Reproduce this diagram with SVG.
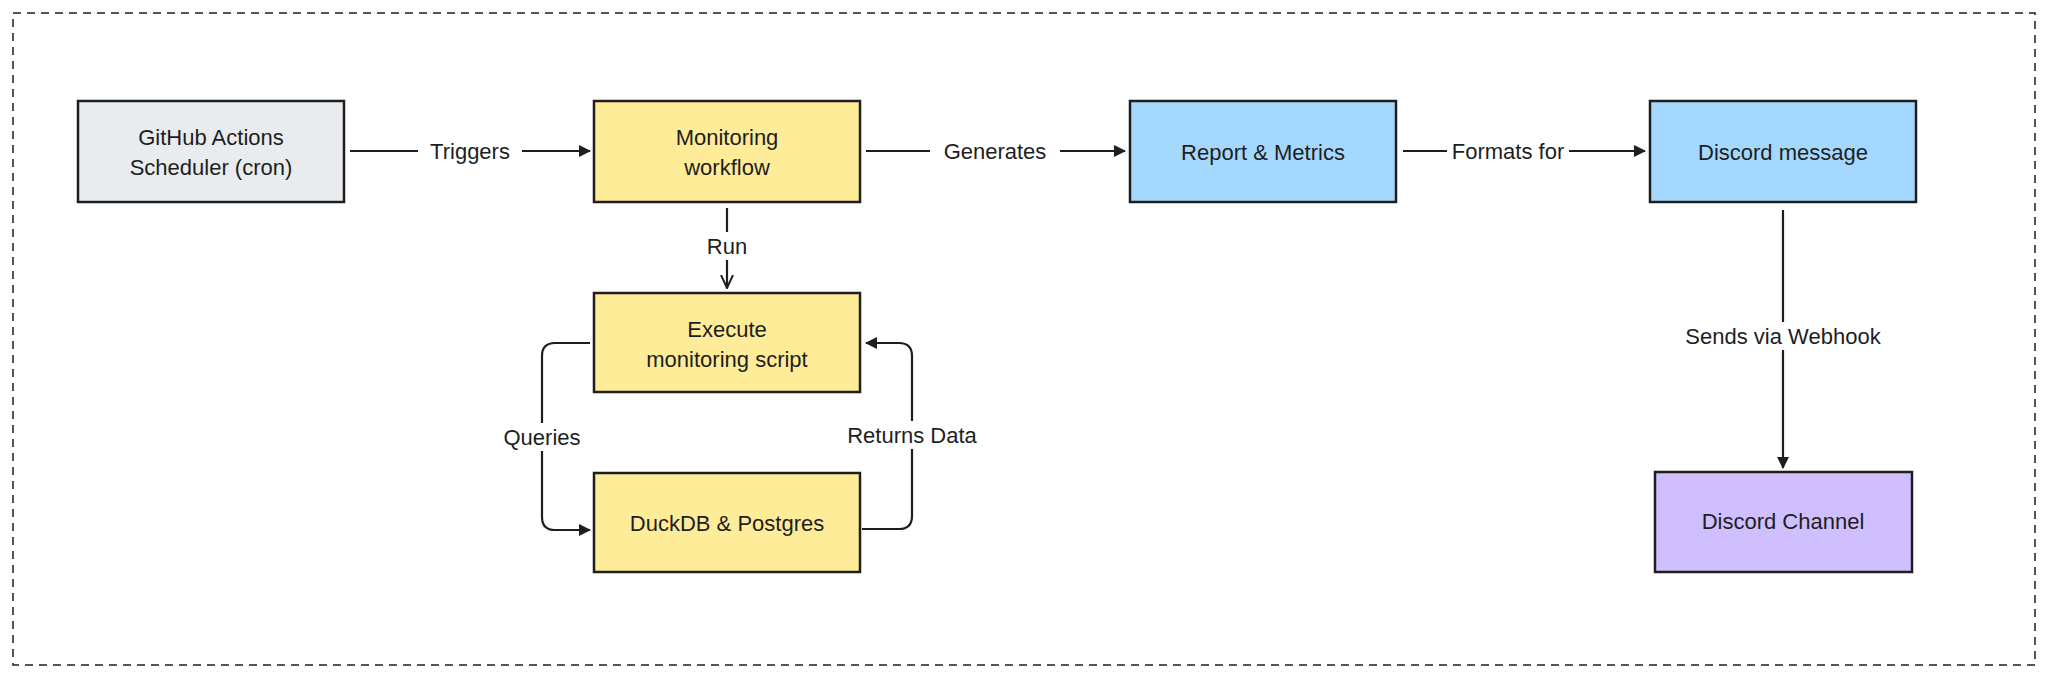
<svg xmlns="http://www.w3.org/2000/svg" width="2048" height="676" viewBox="0 0 2048 676">
<style>
.n{stroke:#1e1e1e;stroke-width:2.5}
.t{font-family:"Liberation Sans",Arial,sans-serif;font-size:22px;fill:#1e1e1e;text-anchor:middle;dominant-baseline:central}
.c{fill:none;stroke:#1e1e1e;stroke-width:2.2}
.lb{fill:#fff}
</style>
<defs>
<marker id="a" markerWidth="12" markerHeight="12" refX="11" refY="6" orient="auto" markerUnits="userSpaceOnUse"><path d="M0,0 L12,6 L0,12 Z" fill="#1e1e1e"/></marker>
<marker id="o" markerWidth="14" markerHeight="14" refX="13" refY="7" orient="auto" markerUnits="userSpaceOnUse"><path d="M0,1 L13,7 L0,13" fill="none" stroke="#1e1e1e" stroke-width="2"/></marker>
</defs>
<rect x="13" y="13" width="2022" height="652" fill="#fff" stroke="#1e1e1e" stroke-width="1.5" stroke-dasharray="8 6"/>
<g id="connectors">
<line class="c" x1="350" y1="151" x2="590" y2="151" marker-end="url(#a)"/>
<line class="c" x1="866" y1="151" x2="1125" y2="151" marker-end="url(#a)"/>
<line class="c" x1="1403" y1="151" x2="1645" y2="151" marker-end="url(#a)"/>
<line class="c" x1="727" y1="208" x2="727" y2="288" marker-end="url(#o)"/>
<path class="c" d="M590,343 H555 Q542,343 542,356 V517 Q542,530 555,530 H590" marker-end="url(#a)"/>
<path class="c" d="M862,529 H899 Q912,529 912,516 V356 Q912,343 899,343 H866" marker-end="url(#a)"/>
<line class="c" x1="1783" y1="210" x2="1783" y2="468" marker-end="url(#a)"/>
<rect class="lb" x="418" y="137" width="104" height="28"/>
<text class="t" x="470" y="151">Triggers</text>
<rect class="lb" x="930" y="137" width="130" height="28"/>
<text class="t" x="995" y="151">Generates</text>
<rect class="lb" x="1447" y="137" width="122" height="28"/>
<text class="t" x="1508" y="151">Formats for</text>
<rect class="lb" x="700" y="232" width="54" height="28"/>
<text class="t" x="727" y="246">Run</text>
<rect class="lb" x="494" y="423" width="96" height="28"/>
<text class="t" x="542" y="437">Queries</text>
<rect class="lb" x="828" y="421" width="168" height="28"/>
<text class="t" x="912" y="435">Returns Data</text>
<rect class="lb" x="1663" y="322" width="240" height="28"/>
<text class="t" x="1783" y="336">Sends via Webhook</text>
</g>
<g id="github"><rect class="n" x="78" y="101" width="266" height="101" fill="#e9ecef"/><text class="t" x="211" y="137">GitHub Actions</text><text class="t" x="211" y="167">Scheduler (cron)</text></g>
<g id="workflow"><rect class="n" x="594" y="101" width="266" height="101" fill="#ffec99"/><text class="t" x="727" y="137">Monitoring</text><text class="t" x="727" y="167">workflow</text></g>
<g id="report"><rect class="n" x="1130" y="101" width="266" height="101" fill="#a5d8ff"/><text class="t" x="1263" y="152">Report &amp; Metrics</text></g>
<g id="discordmsg"><rect class="n" x="1650" y="101" width="266" height="101" fill="#a5d8ff"/><text class="t" x="1783" y="152">Discord message</text></g>
<g id="execute"><rect class="n" x="594" y="293" width="266" height="99" fill="#ffec99"/><text class="t" x="727" y="329">Execute</text><text class="t" x="727" y="359">monitoring script</text></g>
<g id="db"><rect class="n" x="594" y="473" width="266" height="99" fill="#ffec99"/><text class="t" x="727" y="523">DuckDB &amp; Postgres</text></g>
<g id="channel"><rect class="n" x="1655" y="472" width="257" height="100" fill="#d0bfff"/><text class="t" x="1783" y="521">Discord Channel</text></g>
</svg>
